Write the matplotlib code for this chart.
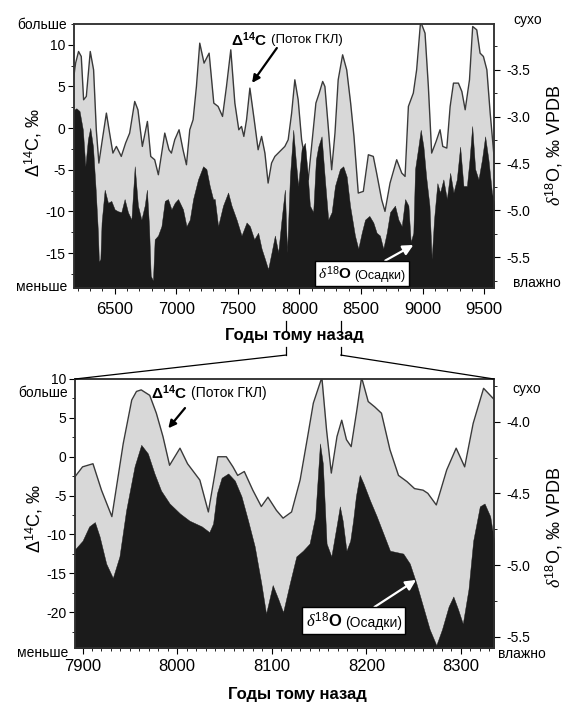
import matplotlib
matplotlib.use("Agg")
import matplotlib.pyplot as plt
from matplotlib.lines import Line2D
from matplotlib.patches import ConnectionPatch
from matplotlib.offsetbox import TextArea, HPacker, AnnotationBbox
from matplotlib.ticker import MultipleLocator

plt.rcParams.update({
    "font.family": ["Liberation Sans", "DejaVu Sans"],
    "mathtext.fontset": "custom",
    "mathtext.rm": "Liberation Sans",
    "mathtext.bf": "Liberation Sans:bold",
    "mathtext.it": "Liberation Serif:italic",
    "axes.unicode_minus": False,
    "axes.linewidth": 1.1,
    "axes.edgecolor": "#333333",
    "xtick.direction": "out",
    "ytick.direction": "out",
})

# ----------------------------------------------------------------------
# Records, 6.2-9.6 ka (top) and the 7.9-8.3 ka close-up (bottom)
# ----------------------------------------------------------------------
TOP_C14_YEARS = [
    6165, 6183, 6207, 6229, 6248, 6270, 6302, 6329, 6351, 6372,
    6400, 6433, 6459, 6486, 6514, 6554, 6589, 6622, 6663, 6689,
    6725, 6766, 6793, 6825, 6855, 6907, 6941, 6961, 6988, 7023,
    7055, 7083, 7110, 7137, 7164, 7191, 7226, 7267, 7305, 7340,
    7376, 7408, 7443, 7476, 7508, 7530, 7549, 7571, 7598, 7633,
    7665, 7693, 7720, 7746, 7774, 7801, 7828, 7855, 7882, 7909,
    7937, 7963, 7990, 8018, 8045, 8072, 8099, 8134, 8161, 8189,
    8207, 8234, 8262, 8289, 8315, 8351, 8384, 8416, 8443, 8478,
    8519, 8560, 8600, 8627, 8668, 8695, 8736, 8790, 8831, 8858,
    8885, 8925, 8952, 8984, 9020, 9047, 9074, 9110, 9142, 9164,
    9197, 9224, 9251, 9291, 9319, 9346, 9381, 9407, 9440, 9467,
    9494, 9522, 9549, 9585,
]
TOP_C14 = [
    5.8, 7.8, 9.2, 8.6, 3.4, 3.8, 9.2, 7.0, -0.2, -4.2,
    -1.4, 1.8, -0.6, -3.0, -2.2, -3.4, -1.8, -0.6, 3.2, 2.2,
    -2.2, 0.8, -3.4, -3.8, -5.6, -0.6, -2.6, -3.0, -1.4, -0.2,
    -2.6, -4.4, -0.2, 1.0, 5.0, 10.2, 7.8, 9.0, 3.0, 2.6,
    1.4, 5.0, 9.4, 3.0, -0.2, 0.2, -1.0, 1.0, 4.8, 1.0,
    -2.6, -1.0, -3.0, -6.6, -4.2, -3.4, -3.0, -2.6, -2.2, -1.4,
    1.8, 5.8, 3.4, -1.4, -3.8, -6.2, -2.2, 3.0, 4.2, 5.6,
    5.0, 0.2, -5.0, -0.6, 5.8, 8.8, 7.0, 3.0, -1.0, -7.8,
    -7.6, -3.2, -3.4, -5.4, -8.6, -10.0, -6.6, -3.8, -5.4, -5.8,
    2.6, 4.2, 7.0, 12.8, 11.4, 5.0, -3.0, -1.6, -0.2, -2.2,
    -2.4, 2.6, 5.4, 5.4, 4.4, 2.2, 5.8, 12.2, 11.8, 9.0,
    8.6, 7.0, 1.8, -4.2,
]

TOP_O18_YEARS = [
    6165, 6189, 6215, 6242, 6262, 6283, 6302, 6324, 6346, 6364,
    6372, 6384, 6394, 6419, 6446, 6473, 6500, 6527, 6554, 6581,
    6608, 6636, 6663, 6689, 6717, 6744, 6762, 6779, 6793, 6811,
    6825, 6852, 6880, 6907, 6933, 6961, 6988, 7015, 7055, 7083,
    7110, 7137, 7177, 7218, 7245, 7272, 7299, 7313, 7340, 7380,
    7421, 7449, 7490, 7530, 7571, 7598, 7633, 7665, 7693, 7720,
    7746, 7774, 7801, 7828, 7855, 7882, 7900, 7923, 7950, 7972,
    7990, 8018, 8045, 8064, 8085, 8112, 8134, 8153, 8180, 8207,
    8234, 8262, 8289, 8329, 8356, 8384, 8411, 8451, 8478, 8506,
    8533, 8568, 8600, 8627, 8654, 8681, 8709, 8736, 8776, 8804,
    8831, 8858, 8885, 8904, 8925, 8939, 8966, 8985, 9007, 9029,
    9056, 9074, 9093, 9120, 9142, 9169, 9197, 9224, 9251, 9278,
    9305, 9332, 9360, 9381, 9403, 9427, 9454, 9482, 9508, 9535,
    9563, 9585,
]
TOP_O18 = [
    -3.93, -3.91, -3.94, -4.14, -4.53, -4.24, -4.12, -4.32, -4.78, -5.23,
    -5.55, -5.52, -5.13, -4.78, -4.92, -4.90, -4.99, -5.01, -5.02, -4.88,
    -5.02, -5.10, -4.53, -4.95, -5.10, -4.95, -4.78, -5.17, -5.70, -5.75,
    -5.31, -5.27, -5.17, -4.90, -4.88, -4.99, -4.92, -4.88, -4.99, -5.17,
    -5.10, -4.88, -4.67, -4.53, -4.56, -4.74, -4.88, -4.88, -5.17, -4.95,
    -4.81, -4.95, -5.10, -5.27, -5.13, -5.17, -5.31, -5.24, -5.41, -5.52,
    -5.63, -5.45, -5.27, -5.45, -5.10, -4.78, -5.45, -4.64, -4.14, -4.49,
    -4.74, -4.35, -4.28, -4.56, -4.95, -5.02, -4.46, -4.32, -4.21, -4.67,
    -5.10, -5.02, -4.74, -4.56, -4.53, -4.64, -4.95, -5.27, -5.41, -5.24,
    -5.10, -5.06, -5.13, -5.24, -5.27, -5.41, -5.24, -5.02, -4.95, -5.10,
    -5.17, -4.88, -4.95, -5.34, -5.24, -4.56, -4.32, -4.14, -4.32, -4.64,
    -4.95, -5.52, -5.10, -4.71, -4.81, -4.67, -4.88, -4.60, -4.81, -4.67,
    -4.32, -4.74, -4.74, -4.46, -4.10, -4.56, -4.67, -4.46, -4.21, -4.46,
    -4.81, -4.95,
]

BOT_C14_YEARS = [
    7888, 7900, 7911, 7920, 7931, 7943, 7952, 7957, 7962, 7971,
    7978, 7985, 7992, 8003, 8011, 8024, 8033, 8043, 8052, 8059,
    8064, 8071, 8080, 8089, 8096, 8105, 8112, 8121, 8130, 8138,
    8144, 8153, 8158, 8163, 8169, 8174, 8179, 8184, 8190, 8195,
    8202, 8209, 8216, 8225, 8234, 8243, 8251, 8260, 8265, 8274,
    8285, 8295, 8304, 8313, 8324, 8331, 8338,
]
BOT_C14 = [
    -3.2, -1.3, -0.9, -4.3, -7.7, 1.7, 7.3, 8.4, 8.6, 7.9,
    5.6, 2.6, -1.1, 1.1, -0.9, -3.0, -7.1, 0.0, 0.0, -1.3,
    -2.4, -1.9, -4.3, -6.4, -5.2, -6.9, -7.9, -7.1, -3.0, 2.6,
    6.9, 10.2, 3.4, -2.1, 2.6, 4.7, 2.2, 1.3, 6.0, 10.2,
    7.1, 6.4, 5.6, 0.9, -2.4, -3.2, -4.1, -4.3, -4.7, -6.2,
    -1.7, 1.1, -1.3, 4.3, 8.8, 7.9, 7.0,
]

BOT_O18_YEARS = [
    7888, 7900, 7907, 7913, 7918, 7925, 7932, 7939, 7946, 7955,
    7962, 7969, 7976, 7983, 7992, 8003, 8013, 8026, 8034, 8038,
    8042, 8047, 8054, 8061, 8068, 8075, 8082, 8089, 8094, 8101,
    8107, 8112, 8119, 8126, 8133, 8140, 8146, 8151, 8154, 8158,
    8163, 8169, 8172, 8175, 8179, 8183, 8186, 8189, 8193, 8197,
    8204, 8211, 8218, 8225, 8232, 8239, 8246, 8253, 8260, 8267,
    8274, 8280, 8287, 8292, 8297, 8302, 8308, 8313, 8320, 8325,
    8331, 8338,
]
BOT_O18 = [
    -4.92, -4.83, -4.73, -4.70, -4.80, -4.99, -5.09, -4.94, -4.62, -4.31,
    -4.16, -4.22, -4.36, -4.48, -4.57, -4.64, -4.69, -4.73, -4.77, -4.71,
    -4.50, -4.39, -4.36, -4.41, -4.52, -4.69, -4.87, -5.13, -5.34, -5.14,
    -5.24, -5.33, -5.13, -4.94, -4.90, -4.85, -4.66, -4.15, -4.29, -4.85,
    -4.94, -4.71, -4.59, -4.69, -4.90, -4.83, -4.69, -4.52, -4.37, -4.43,
    -4.55, -4.66, -4.78, -4.90, -4.91, -4.92, -4.99, -5.13, -5.29, -5.45,
    -5.56, -5.45, -5.29, -5.22, -5.31, -5.41, -5.17, -4.83, -4.59, -4.57,
    -4.66, -4.95,
]

TOP_XTICKS = [6500, 7000, 7500, 8000, 8500, 9000, 9500]
TOP_C14_TICKS = [-15, -10, -5, 0, 5, 10]
TOP_O18_TICKS = [-5.5, -5.0, -4.5, -4.0, -3.5]
TOP_O18_LABELS = ["-5.5", "-5.0", "-4.5", "-3.0", "-3.5"]

BOT_XTICKS = [7900, 8000, 8100, 8200, 8300]
BOT_C14_TICKS = [-20, -15, -10, -5, 0, 5, 10]
BOT_O18_TICKS = [-5.5, -5.0, -4.5, -4.0]
BOT_O18_LABELS = ["-5.5", "-5.0", "-4.5", "-4.0"]

ZOOM_RANGE = (7892, 8335)

GRAY = "#d8d8d8"
LINE = "#3a3a3a"
DARK = "#1b1b1b"


def panel(ax, yr_c, c14, yr_o, o18, xlim, c14_lim, o18_lim):
    ax.fill_between(yr_c, c14, c14_lim[0] - 5, color=GRAY, lw=0)
    ax.plot(yr_c, c14, color=LINE, lw=1.0)
    ax.set_xlim(xlim)
    ax.set_ylim(c14_lim)
    ax2 = ax.twinx()
    ax2.fill_between(yr_o, o18, o18_lim[0] - 1, color=DARK, lw=0.3)
    ax2.set_ylim(o18_lim)
    ax.tick_params(axis="y", which="major", length=4, pad=2, labelsize=10)
    ax.tick_params(axis="y", which="minor", length=2)
    ax2.tick_params(axis="y", which="major", length=4, pad=5, labelsize=10)
    ax2.tick_params(axis="y", which="minor", length=2)
    ax.yaxis.set_minor_locator(MultipleLocator(2.5))
    ax2.yaxis.set_minor_locator(MultipleLocator(0.25))
    return ax2


def side_words(ax, top_y, bottom_y, right_top_y, right_bottom_y, rx_bottom):
    kw = dict(transform=ax.transAxes, fontsize=10, va="center")
    ax.text(-0.017, top_y, "больше", ha="right", **kw)
    ax.text(-0.017, bottom_y, "меньше", ha="right", **kw)
    ax.text(1.045, right_top_y, "сухо", ha="left", **kw)
    ax.text(rx_bottom, right_bottom_y, "влажно", ha="left", **kw)


def c14_label(ax, x, y, tail, head, size_big, size_small):
    ax.text(x, y, r"$\mathbf{\Delta^{14}C}$", transform=ax.transAxes,
            ha="right", va="center", fontsize=size_big)
    ax.text(x + 0.01, y, "(Поток ГКЛ)", transform=ax.transAxes,
            ha="left", va="center", fontsize=size_small)
    ax.annotate("", xy=head, xytext=tail, xycoords="axes fraction",
                textcoords="axes fraction",
                arrowprops=dict(arrowstyle="-|>", color="black", lw=1.6,
                                mutation_scale=11, shrinkA=0, shrinkB=0))


def o18_label(ax, box_xy, head, size_big, size_small):
    parts = HPacker(children=[
        TextArea(r"$\delta^{18}\mathbf{O}$", textprops=dict(fontsize=size_big)),
        TextArea("(Осадки)", textprops=dict(fontsize=size_small)),
    ], align="baseline", pad=0, sep=2)
    ab = AnnotationBbox(parts, head, xybox=box_xy, xycoords="axes fraction",
                        boxcoords="axes fraction", frameon=True, pad=0.25,
                        bboxprops=dict(fc="white", ec="black", lw=1.0),
                        arrowprops=dict(arrowstyle="-|>", color="white", lw=1.6,
                                        mutation_scale=11, shrinkA=0, shrinkB=0))
    ax.add_artist(ab)


fig = plt.figure(figsize=(5.66, 7.05), dpi=100)
ax_top = fig.add_axes([74 / 566, 1 - 288 / 705, 420 / 566, 264 / 705])
ax_bot = fig.add_axes([75 / 566, 1 - 648 / 705, 419 / 566, 269 / 705])

# --- top panel: whole record ---
ax_top2 = panel(ax_top, TOP_C14_YEARS, TOP_C14, TOP_O18_YEARS, TOP_O18,
                (6170, 9580), (-19.2, 12.5), (-5.83, -3.01))
ax_top.set_xticks(TOP_XTICKS)
ax_top.xaxis.set_minor_locator(MultipleLocator(100))
ax_top.tick_params(axis="x", which="major", length=4, pad=6, labelsize=12)
ax_top.tick_params(axis="x", which="minor", length=2)
ax_top.set_yticks(TOP_C14_TICKS)
ax_top2.set_yticks(TOP_O18_TICKS, labels=TOP_O18_LABELS)

ax_top.set_ylabel(r"$\Delta^{14}$C, ‰", fontsize=13)
ax_top.yaxis.set_label_coords(-0.071, 0.55)
ax_top2.set_ylabel(r"$\delta^{18}$O, ‰ VPDB", fontsize=13)
ax_top2.yaxis.set_label_coords(1.119, 0.54)
ax_top.set_xlabel("Годы тому назад", fontsize=12, fontweight="bold")
ax_top.xaxis.set_label_coords(0.525, -0.152)

side_words(ax_top, 0.996, 0.004, 1.015, 0.019, 1.045)
c14_label(ax_top2, 0.4595, 0.939, (0.483, 0.909), (0.424, 0.777), 11, 9.5)
o18_label(ax_top2, (0.686, 0.055), (0.808, 0.163), 11, 9)

# --- bottom panel: close-up of the 8.2 ka interval ---
ax_bot2 = panel(ax_bot, BOT_C14_YEARS, BOT_C14, BOT_O18_YEARS, BOT_O18,
                ZOOM_RANGE, (-24.6, 10), (-5.58, -3.70))
ax_bot.set_xticks(BOT_XTICKS)
ax_bot.xaxis.set_minor_locator(MultipleLocator(10))
ax_bot.tick_params(axis="x", which="major", length=4, pad=4, labelsize=12)
ax_bot.tick_params(axis="x", which="minor", length=2)
ax_bot.set_yticks(BOT_C14_TICKS)
ax_bot2.set_yticks(BOT_O18_TICKS, labels=BOT_O18_LABELS)

ax_bot.set_ylabel(r"$\Delta^{14}$C, ‰", fontsize=13)
ax_bot.yaxis.set_label_coords(-0.072, 0.48)
ax_bot2.set_ylabel(r"$\delta^{18}$O, ‰ VPDB", fontsize=13)
ax_bot2.yaxis.set_label_coords(1.119, 0.45)
ax_bot.set_xlabel("Годы тому назад", fontsize=12, fontweight="bold")
ax_bot.xaxis.set_label_coords(0.53, -0.145)

side_words(ax_bot, 0.948, -0.019, 0.963, -0.022, 1.01)
c14_label(ax_bot2, 0.267, 0.948, (0.2625, 0.892), (0.2227, 0.817), 11, 10)
o18_label(ax_bot2, (0.665, 0.102), (0.814, 0.253), 12, 10)

# --- zoom guide from the top time axis to the close-up ---
xt = ax_top.get_xaxis_transform()
for x0 in ZOOM_RANGE:
    for y0, y1 in ((-0.125, -0.163), (-0.223, -0.254)):
        ax_top.add_line(Line2D([x0, x0], [y0, y1], transform=xt, color="black",
                               lw=0.9, clip_on=False))
for x0, xb in zip(ZOOM_RANGE, (0, 1)):
    fig.add_artist(ConnectionPatch(xyA=(x0, -0.254), coordsA=xt,
                                   xyB=(xb, 1), coordsB=ax_bot.transAxes,
                                   color="black", lw=0.9))

fig.savefig("out.png", dpi=100, facecolor="white")
